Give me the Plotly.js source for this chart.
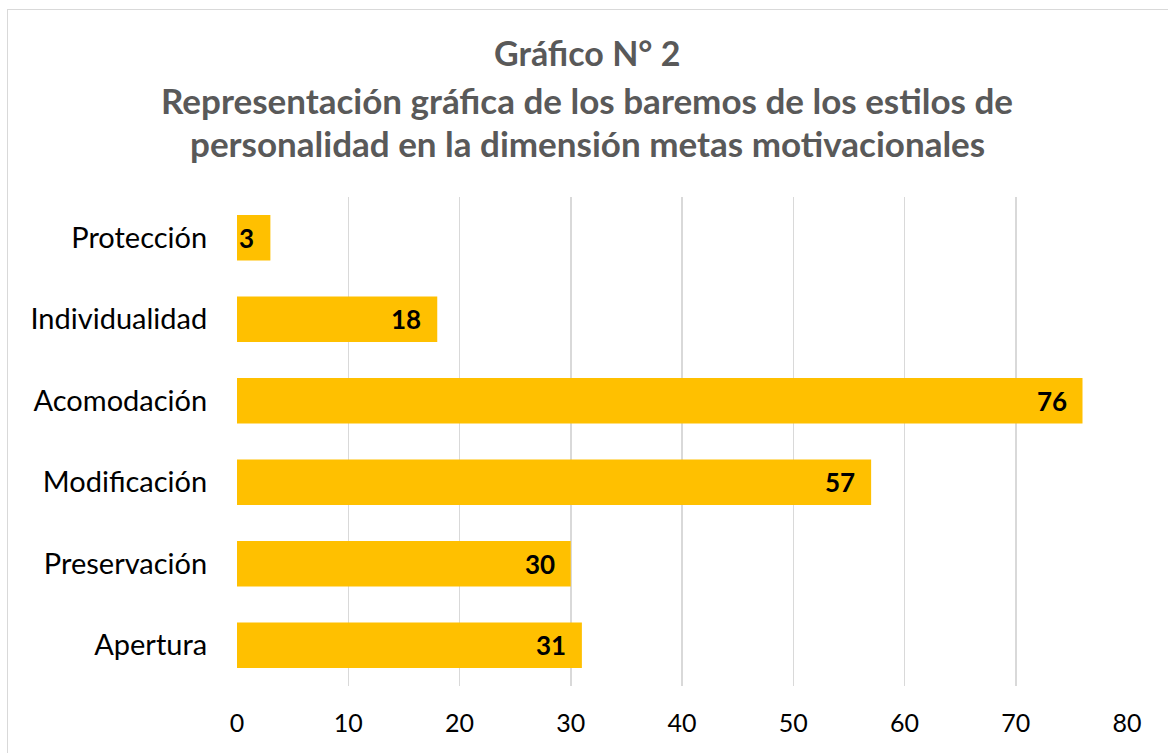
<!DOCTYPE html>
<html><head><meta charset="utf-8">
<script src="https://cdn.plot.ly/plotly-3.0.1.min.js"></script>
<style>
html,body{margin:0;padding:0;background:#fff;}
#frame{position:absolute;left:7px;top:9px;width:1170px;height:760px;border:1px solid #d9d9d9;}
#chart{position:absolute;left:0;top:0;width:1168px;height:753px;}
</style></head>
<body>
<div id="frame"></div>
<div id="chart"></div>
<script>
const categories = ["Apertura","Preservación","Modificación","Acomodación","Individualidad","Protección"];
const values = [31,30,57,76,18,3];
const titleLines = ["Gráfico N° 2","Representación gráfica de los baremos de los estilos de","personalidad en la dimensión metas motivacionales"];
const tickVals = [0,10,20,30,40,50,60,70,80];

const font = "Lato, 'Open Sans', sans-serif";
const data = [{
  type:'bar', orientation:'h', x:values, y:categories,
  marker:{color:'#FFC000'}, width:0.56,
  hoverinfo:'none'
}];
const titleY = [52,100,143];
const plotTop = 197, plotH = 489;
const annotations = titleLines.map((t,i)=>({
    text:t, xref:'paper', yref:'paper', x:(587-237)/890, xanchor:'center',
    y:1-(titleY[i]-plotTop)/plotH, yanchor:'middle', showarrow:false,
    font:{family:font, size: i===0?34:35, color:'#595959', weight:'bold'}
  }));
values.forEach((v,i)=>annotations.push({
  text:String(v), x:v, y:categories[i], xref:'x', yref:'y',
  xanchor:'right', yanchor:'middle', xshift:-14, showarrow:false,
  font:{family:font, size:26, color:'#000', weight:'bold'}
}));
const layout = {
  width:1168, height:753,
  margin:{l:237, r:41, t:plotTop, b:753-plotTop-plotH},
  paper_bgcolor:'rgba(0,0,0,0)', plot_bgcolor:'rgba(0,0,0,0)',
  showlegend:false,
  xaxis:{range:[0,80], tickvals:tickVals, showgrid:true, gridcolor:'#d9d9d9', gridwidth:1.5,
         zeroline:false, showline:false, ticks:'outside', ticklen:15, tickcolor:'rgba(0,0,0,0)',
         tickfont:{family:font, size:25, color:'#000'}, fixedrange:true},
  yaxis:{type:'category', categoryarray:categories, showgrid:false, zeroline:false, showline:false,
         ticks:'outside', ticklen:23, tickcolor:'rgba(0,0,0,0)',
         tickfont:{family:font, size:29, color:'#000'}, fixedrange:true},
  annotations: annotations
};
Plotly.newPlot('chart', data, layout, {displayModeBar:false, staticPlot:true});
</script>
</body></html>
